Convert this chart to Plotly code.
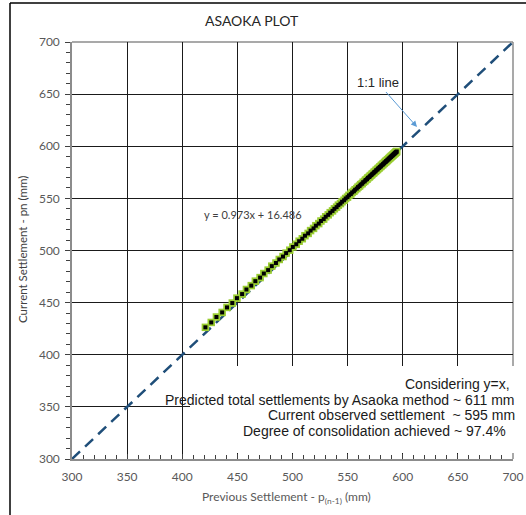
import plotly.graph_objects as go

# Settlement record (mm); Asaoka pairs are (S[i-1], S[i])
settlement = [
    421.0, 426.3, 431.0, 436.2, 440.6, 445.4, 449.6, 454.3, 458.2, 462.6,
    466.3, 470.6, 474.0, 477.9, 481.2, 485.0, 488.0, 491.4, 494.2, 497.5,
    500.3, 503.4, 506.0, 508.9, 511.3, 514.2, 516.4, 519.1, 521.2, 523.8,
    525.8, 528.3, 530.1, 532.4, 534.2, 536.3, 538.0, 540.0, 541.6, 543.5,
    545.0, 546.8, 548.2, 549.9, 551.2, 552.9, 554.1, 555.7, 556.8, 558.3,
    559.4, 560.8, 561.8, 563.2, 564.1, 565.5, 566.3, 567.6, 568.4, 569.7,
    570.5, 571.6, 572.4, 573.5, 574.2, 575.3, 575.9, 577.0, 577.6, 578.6,
    579.2, 580.2, 580.7, 581.7, 582.2, 583.1, 583.6, 584.5, 584.9, 585.8,
    586.2, 587.0, 587.4, 588.2, 588.6, 589.3, 589.7, 590.4, 590.8, 591.4,
    591.8, 592.4, 592.7, 593.3, 593.6, 594.2, 594.5, 595.0,
]
prev_settlement = settlement[:-1]
curr_settlement = settlement[1:]

one_to_one = [300, 700]
axis_ticks = [300, 350, 400, 450, 500, 550, 600, 650, 700]

title_text = "ASAOKA PLOT"
x_title = "Previous Settlement - p<sub>(n-1)</sub> (mm)"
y_title = "Current Settlement - pn (mm)"
equation = "y = 0.973x + 16.486"
summary_lines = [
    "Considering y=x,",
    "Predicted total settlements by Asaoka method ~ 611 mm",
    "Current observed settlement  ~ 595 mm",
    "Degree of consolidation achieved ~ 97.4%",
]

W, H = 526, 515
L, R, T, B = 72, 513, 42, 459


def px(xp):
    return (xp - L) / (R - L)


def py(yp):
    return (B - yp) / (B - T)


fig = go.Figure()

fig.add_trace(go.Scatter(
    x=one_to_one, y=one_to_one, mode="lines",
    line=dict(color="#1F4E79", width=2.5, dash="11px,7px"),
    hoverinfo="skip", showlegend=False,
))

# green halo under the data points
fig.add_trace(go.Scatter(
    x=prev_settlement, y=curr_settlement, mode="markers",
    marker=dict(symbol="square", size=7.5, color="#9ACD32", line=dict(width=0)),
    hoverinfo="skip", showlegend=False,
))
fig.add_trace(go.Scatter(
    x=prev_settlement, y=curr_settlement, mode="markers",
    marker=dict(symbol="square", size=4, color="#000000", line=dict(width=0)),
    showlegend=False,
))

label_font = dict(family="Lato, Noto Sans, sans-serif", size=12, color="#595959")
frame_color = "#8c8c8c"

fig.update_xaxes(
    range=[300, 700], tickvals=axis_ticks, showgrid=True, gridcolor="#1a1a1a", gridwidth=1,
    showline=True, linecolor=frame_color, linewidth=1.5, mirror=False,
    ticks="inside", ticklen=5, tickcolor="#404040",
    minor=dict(dtick=10, ticks="inside", ticklen=4, tickcolor="#404040", showgrid=False),
    tickfont=label_font, ticklabelstandoff=6, zeroline=False, automargin=False,
)
fig.update_yaxes(
    range=[300, 700], tickvals=axis_ticks, showgrid=True, gridcolor="#1a1a1a", gridwidth=1,
    showline=True, linecolor=frame_color, linewidth=1.5, mirror=False,
    ticks="outside", ticklen=5, tickcolor="#404040",
    minor=dict(dtick=10, ticks="outside", ticklen=4, tickcolor="#404040", showgrid=False),
    tickfont=label_font, ticklabelstandoff=3, zeroline=False, automargin=False,
)

shapes = [
    # top and right frame of the plot area
    dict(type="line", xref="paper", yref="paper", x0=0, x1=1, y0=1, y1=1,
         line=dict(color=frame_color, width=1.5), layer="between"),
    dict(type="line", xref="paper", yref="paper", x0=1, x1=1, y0=0, y1=1,
         line=dict(color=frame_color, width=1.5), layer="between"),
    # white text box covering lower-right gridlines
    dict(type="rect", xref="paper", yref="paper",
         x0=px(190), x1=px(517), y0=py(453), y1=py(366),
         fillcolor="white", line=dict(width=0), layer="above"),
    # outer chart border (left and top)
    dict(type="line", xref="paper", yref="paper",
         x0=px(10), x1=px(10), y0=py(520), y1=py(3),
         line=dict(color="black", width=1.5)),
    dict(type="line", xref="paper", yref="paper",
         x0=px(10), x1=px(530), y0=py(3), y1=py(3),
         line=dict(color="black", width=1.5)),
]


def label(text, x, y, size, color, family="Lato, sans-serif", xanchor="center", **kw):
    return dict(text=text, xref="paper", yref="paper", x=px(x), y=py(y),
                xanchor=xanchor, yanchor="middle", showarrow=False,
                font=dict(family=family, size=size, color=color), **kw)


arial = "Liberation Sans, Arial, sans-serif"
annotations = [
    label(title_text, 252, 20, 14, "#262626"),
    label(x_title, 286, 497, 12, "#595959"),
    label(y_title, 22, 250, 11.5, "#404040", textangle=-90),
    label(equation, 253, 214, 11, "#404040"),
    # "1:1 line" callout with arrow pointing at the dashed line
    dict(text="1:1 line", xref="paper", yref="paper", x=px(417), y=py(127),
         axref="pixel", ayref="pixel", ax=378 - 417, ay=83 - 127, showarrow=True,
         arrowhead=2, arrowsize=1.2, arrowwidth=1, arrowcolor="#5B9BD5",
         font=dict(family=arial, size=13, color="#262626")),
]

right_edges = [512, 517, 517, 508]
centers = [384, 400, 415, 431]
for line, xr, yc in zip(summary_lines, right_edges, centers):
    annotations.append(label(line, xr, yc, 14, "#1a1a1a", family=arial, xanchor="right"))

fig.update_layout(
    width=W, height=H, autosize=False,
    margin=dict(l=L, r=W - R, t=T, b=H - B, pad=0),
    paper_bgcolor="white", plot_bgcolor="white",
    shapes=shapes, annotations=annotations,
)

fig.write_html("out.html", config={"displayModeBar": False},
               post_script="document.body.style.margin='0';document.body.style.padding='0';")
